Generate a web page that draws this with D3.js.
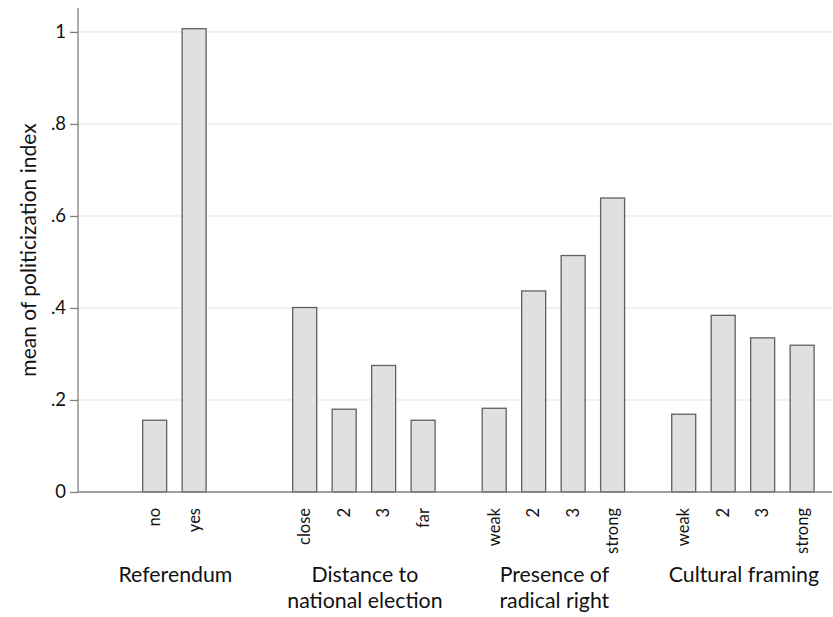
<!DOCTYPE html>
<html>
<head>
<meta charset="utf-8">
<script src="https://cdn.jsdelivr.net/npm/d3@7"></script>
<style>
  html, body { margin: 0; padding: 0; background: #fff; }
  svg { display: block; }
  text { font-family: "Lato", "Open Sans", sans-serif; fill: #111; }
</style>
</head>
<body>
<svg id="chart" width="833" height="617"></svg>
<script>
// ---- data ----
const groups = ["Referendum", "Distance to\nnational election", "Presence of\nradical right", "Cultural framing"];
const referendumCats = ["no", "yes"];
const referendumVals = [0.156, 1.007];
const distanceCats = ["close", "2", "3", "far"];
const distanceVals = [0.401, 0.180, 0.275, 0.156];
const radicalCats = ["weak", "2", "3", "strong"];
const radicalVals = [0.182, 0.437, 0.514, 0.639];
const culturalCats = ["weak", "2", "3", "strong"];
const culturalVals = [0.169, 0.384, 0.335, 0.319];
const yTicks = [0, 0.2, 0.4, 0.6, 0.8, 1];
const yTickLabels = ["0", ".2", ".4", ".6", ".8", "1"];
const yTitle = "mean of politicization index";

const groupCats = [referendumCats, distanceCats, radicalCats, culturalCats];
const groupVals = [referendumVals, distanceVals, radicalVals, culturalVals];
const slots = [0, 1, 2, 3];

// ---- layout ----
const svg = d3.select("#chart");
const axisX = 78, plotRight = 832, baseY = 492, topY = 8;

const y = d3.scaleLinear().domain([0, 1.052]).range([baseY, topY]);

const outer = d3.scaleBand().domain(groups)
  .range([103.2, 814.1]).paddingInner(0.2486).paddingOuter(0);
const inner = d3.scaleBand().domain(slots)
  .range([0, outer.bandwidth()]).paddingInner(0.392).paddingOuter(0);

// flatten bars
const bars = [];
groups.forEach((g, gi) => {
  const cats = groupCats[gi], vals = groupVals[gi];
  const off = Math.floor((slots.length - cats.length) / 2);
  cats.forEach((c, i) => bars.push({ group: g, cat: c, value: vals[i], slot: i + off }));
});
const barX = d => outer(d.group) + inner(d.slot);

// gridlines
svg.append("g").selectAll("line").data(yTicks.filter(t => t > 0)).join("line")
  .attr("x1", axisX).attr("x2", plotRight)
  .attr("y1", d => y(d)).attr("y2", d => y(d))
  .attr("stroke", "#e2e2e2").attr("stroke-width", 1);

// bars
svg.append("g").selectAll("rect").data(bars).join("rect")
  .attr("x", d => barX(d))
  .attr("y", d => y(d.value))
  .attr("width", inner.bandwidth())
  .attr("height", d => y(0) - y(d.value))
  .attr("fill", "#e0e0e0")
  .attr("stroke", "#606060")
  .attr("stroke-width", 1.3);

// y axis
const yAxis = d3.axisLeft(y).tickValues(yTicks)
  .tickFormat((d, i) => yTickLabels[i]).tickSize(8).tickPadding(4);
const gy = svg.append("g").attr("transform", `translate(${axisX},0)`).call(yAxis);
gy.select(".domain").attr("stroke", "#808080").attr("stroke-width", 1.3)
  .attr("d", `M0,${topY}V${baseY}`);
gy.selectAll(".tick line").attr("stroke", "#808080").attr("stroke-width", 1.3);
gy.selectAll(".tick text").attr("font-size", 18.5).attr("fill", "#111")
  .attr("font-family", "Lato, 'Open Sans', sans-serif");

// x axis baseline
svg.append("line").attr("x1", axisX).attr("x2", plotRight)
  .attr("y1", baseY).attr("y2", baseY)
  .attr("stroke", "#808080").attr("stroke-width", 1.3);

// category labels (rotated)
svg.append("g").selectAll("text").data(bars).join("text")
  .attr("transform", d => `translate(${barX(d) + inner.bandwidth() / 2},${baseY + 16}) rotate(-90)`)
  .attr("text-anchor", "end")
  .attr("dy", "0.35em")
  .attr("font-size", 16.5)
  .text(d => d.cat);

// group labels
const gl = svg.append("g").selectAll("text").data(groups).join("text")
  .attr("text-anchor", "middle")
  .attr("font-size", 21.3)
  .attr("x", d => outer(d) + outer.bandwidth() / 2 + 1)
  .attr("y", 581.7);
gl.selectAll("tspan").data(d => d.split("\n")).join("tspan")
  .attr("x", function () { return d3.select(this.parentNode).attr("x"); })
  .attr("dy", (d, i) => i === 0 ? 0 : 26.6)
  .text(d => d);

// y title
svg.append("text")
  .attr("transform", `translate(36,250) rotate(-90)`)
  .attr("text-anchor", "middle")
  .attr("font-size", 21)
  .text(yTitle);
</script>
</body>
</html>
